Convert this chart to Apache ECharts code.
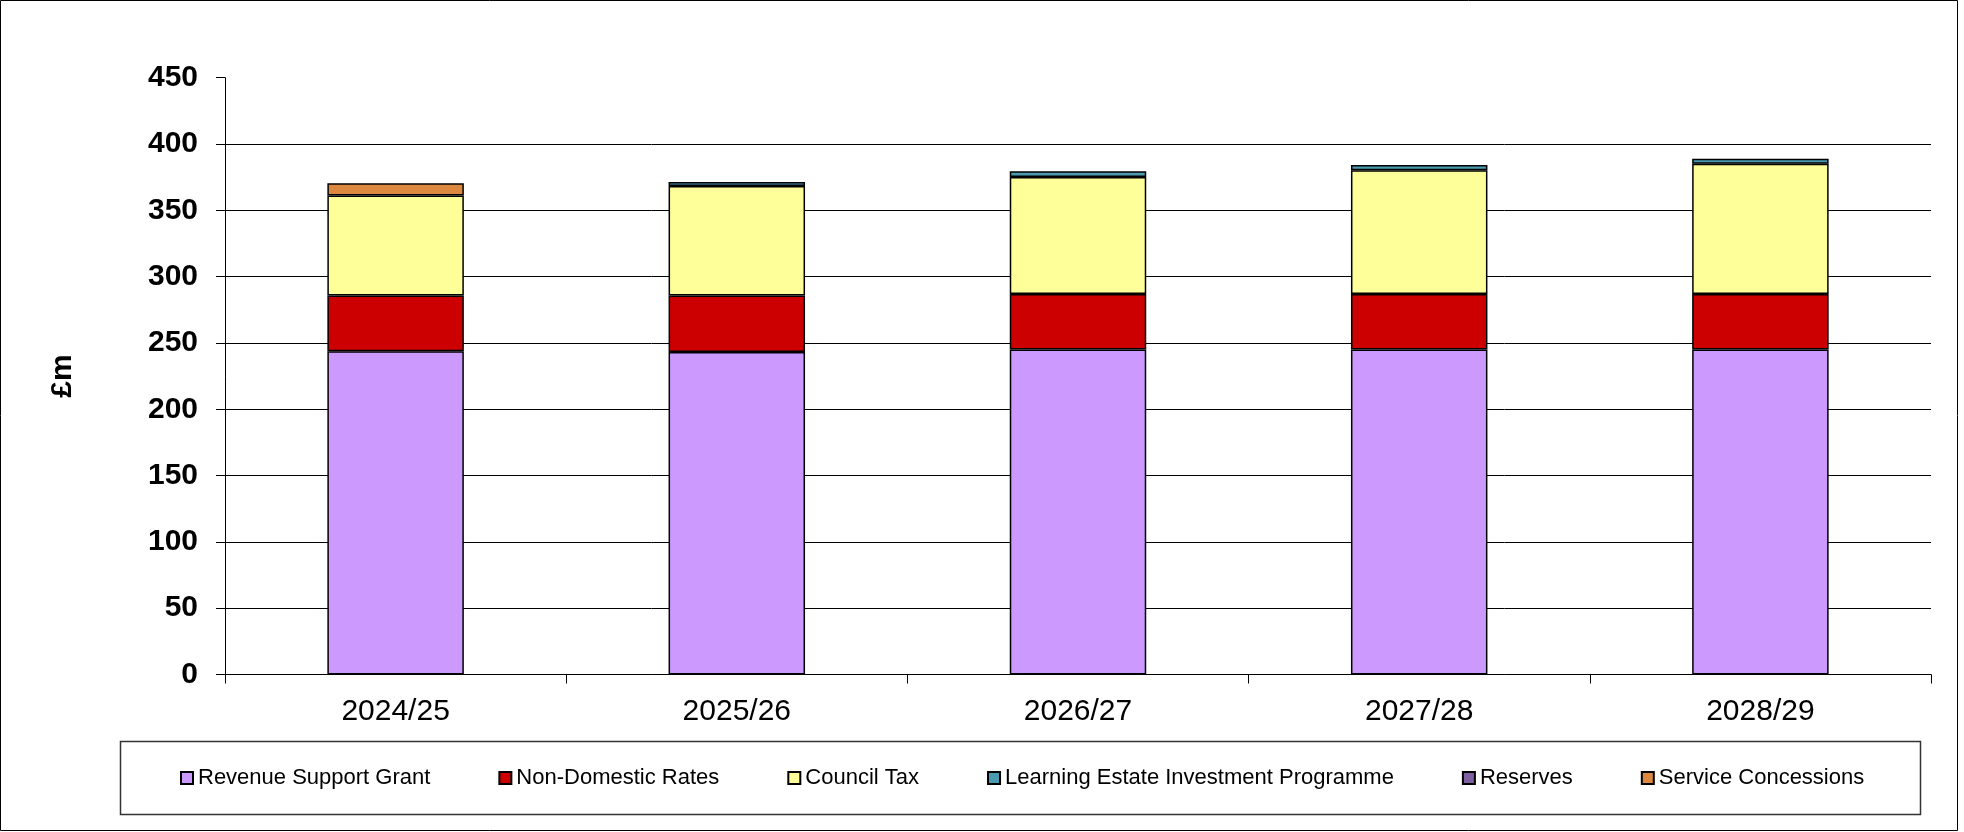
<!DOCTYPE html>
<html>
<head>
<meta charset="utf-8">
<script src="https://cdn.jsdelivr.net/npm/echarts@6/dist/echarts.min.js"></script>
<style>
  html, body { margin: 0; padding: 0; background: #fff; }
  #chart { width: 1964px; height: 832px; }
</style>
</head>
<body>
<div id="chart"></div>
<script>
// Funding sources by financial year, £m
const years = ['2024/25', '2025/26', '2026/27', '2027/28', '2028/29'];
const revenueSupportGrant = [243.7, 243.2, 245.0, 245.0, 245.0];
const nonDomesticRates = [42.0, 42.5, 41.9, 41.9, 41.9];
const councilTax = [75.4, 82.6, 88.2, 93.3, 98.3];
const learningEstate = [0, 3.0, 4.3, 4.0, 3.7];
const reserves = [0, 0, 0, 0, 0];
const serviceConcessions = [9.3, 0, 0, 0, 0];
const yTicks = [0, 50, 100, 150, 200, 250, 300, 350, 400, 450];

const FONT = '"Liberation Sans", Arial, sans-serif';

const seriesDefs = [
  { name: 'Revenue Support Grant', data: revenueSupportGrant, color: '#CC99FF' },
  { name: 'Non-Domestic Rates', data: nonDomesticRates, color: '#CC0000' },
  { name: 'Council Tax', data: councilTax, color: '#FFFF99' },
  { name: 'Learning Estate Investment Programme', data: learningEstate, color: '#4A9BB0' },
  { name: 'Reserves', data: reserves, color: '#7E5FA0' },
  { name: 'Service Concessions', data: serviceConcessions, color: '#DD8840' }
];

// grid lines at every tick except the top one
const splitColors = yTicks.map((t, i) => i === yTicks.length - 1 ? 'rgba(0,0,0,0)' : '#000');

const chart = echarts.init(document.getElementById('chart'));
chart.setOption({
  backgroundColor: '#fff',
  animation: false,
  textStyle: { fontFamily: FONT },
  graphic: [
    {
      type: 'rect', silent: true, z: -1,
      shape: { x: 0.5, y: 0.5, width: 1957, height: 830 },
      style: { fill: 'none', stroke: '#000', lineWidth: 1 }
    },
    {
      type: 'rect', silent: true, z: -1,
      shape: { x: 120.5, y: 741.5, width: 1800, height: 73 },
      style: { fill: 'none', stroke: '#333', lineWidth: 1.5 }
    }
  ],
  legend: {
    left: 180,
    top: 767,
    padding: 0,
    itemGap: 68,
    itemWidth: 12,
    itemHeight: 12,
    icon: 'rect',
    itemStyle: { borderColor: '#000', borderWidth: 2 },
    textStyle: { fontFamily: FONT, fontSize: 22, color: '#000' },
    data: seriesDefs.map(s => s.name)
  },
  grid: { left: 225, right: 33, top: 77.7, bottom: 157.5 },
  xAxis: {
    type: 'category',
    data: years,
    boundaryGap: true,
    axisLine: { lineStyle: { color: '#000', width: 1 } },
    axisTick: { show: true, length: 9, lineStyle: { color: '#000' }, alignWithLabel: false },
    axisLabel: { fontFamily: FONT, fontSize: 30, color: '#000', margin: 22 }
  },
  yAxis: {
    type: 'value',
    min: 0,
    max: 450,
    interval: 50,
    name: '£m',
    nameLocation: 'middle',
    nameGap: 147,
    nameTextStyle: { fontFamily: FONT, fontSize: 30, fontWeight: 'bold', color: '#000' },
    axisLine: { show: true, lineStyle: { color: '#000', width: 1 } },
    axisTick: { show: true, length: 9, lineStyle: { color: '#000' } },
    axisLabel: { fontFamily: FONT, fontSize: 30, fontWeight: 'bold', color: '#000', margin: 27 },
    splitLine: { show: true, lineStyle: { color: splitColors, width: 1 } }
  },
  series: seriesDefs.map(s => ({
    name: s.name,
    type: 'bar',
    stack: 'funding',
    barWidth: '40%',
    // empty segments are left undrawn so their outlines do not pile up
    data: s.data.map(v => (v === 0 ? '-' : v)),
    itemStyle: { color: s.color, borderColor: '#000', borderWidth: 1.5 },
    emphasis: { disabled: true }
  }))
});
</script>
</body>
</html>
